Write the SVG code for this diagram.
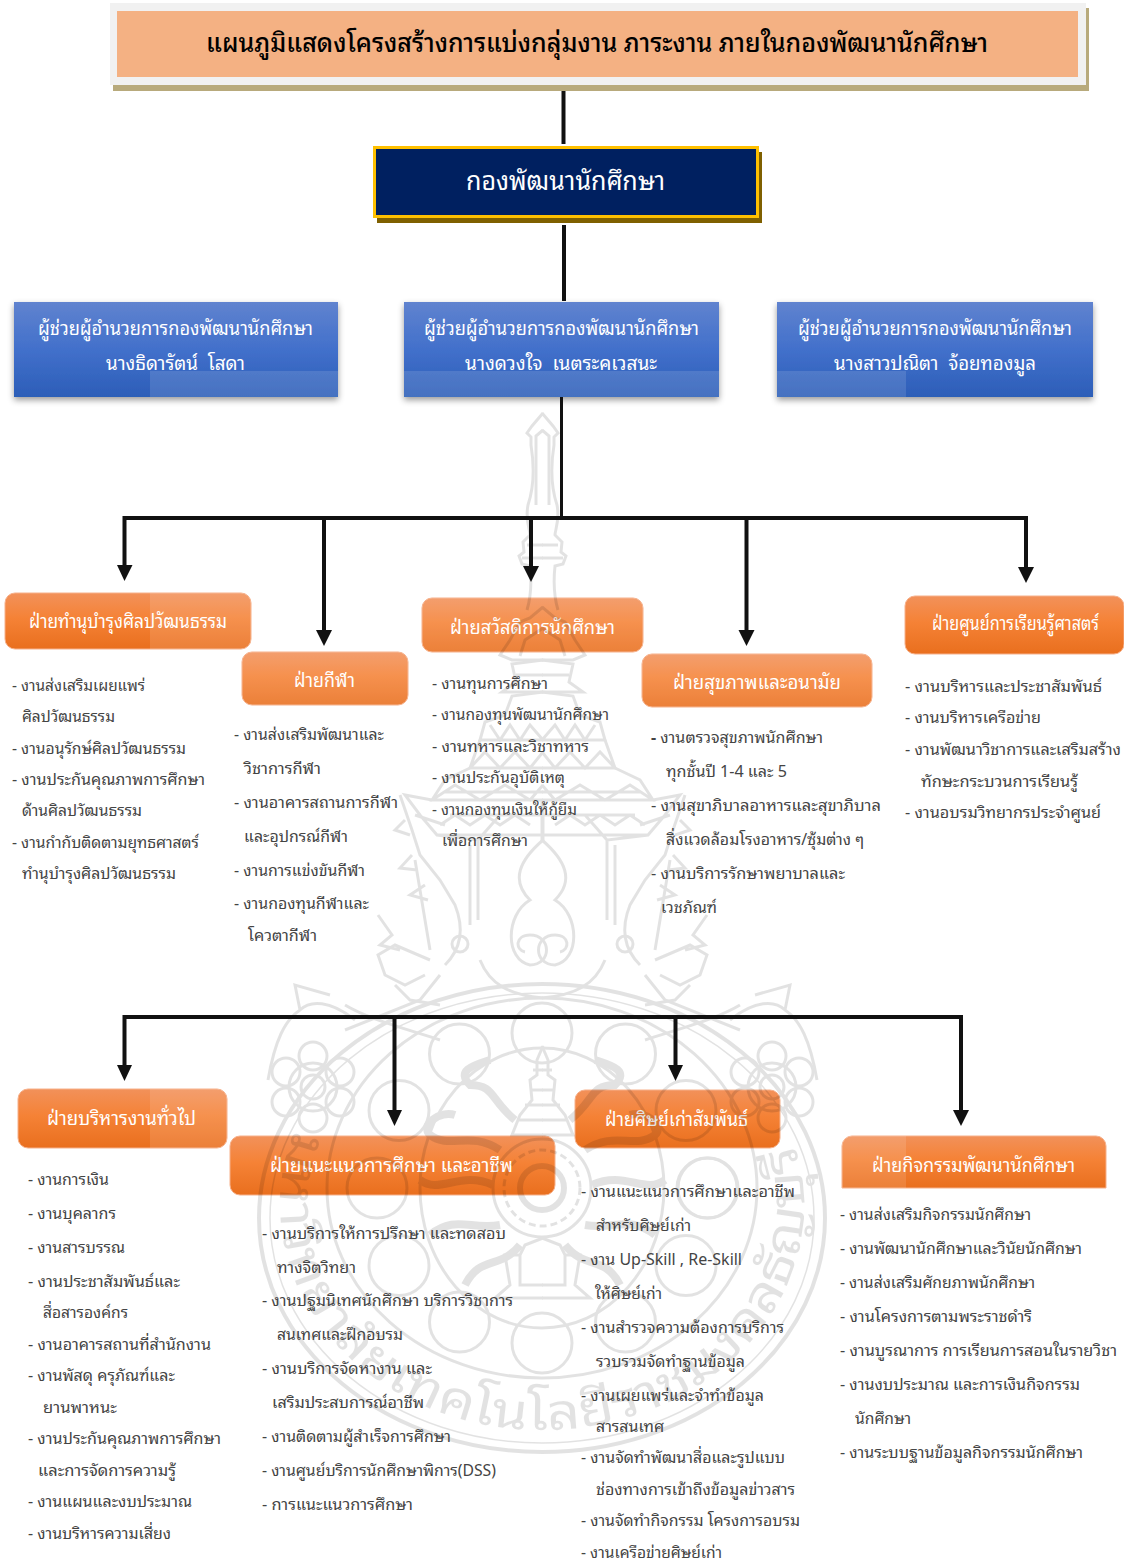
<svg xmlns="http://www.w3.org/2000/svg" width="1124" height="1562" viewBox="0 0 1124 1562">
<style>
text{font-family:"Noto Sans Thai Looped","Noto Sans","Noto Sans Thai","Liberation Sans",sans-serif}
.b{font-size:16px;fill:#444;transform:translate(0,-1px)}
.o{font-size:19px;fill:#fff;text-anchor:start}
.bl{font-size:19px;fill:#fff}
.ln{stroke:#111;stroke-width:4;fill:none}
.ah{fill:#111}
.wm{fill:none;stroke:#000;stroke-width:3}
.ov{fill:#fff;opacity:.12}
</style>
<defs>
<linearGradient id="gO" x1="0" y1="0" x2="0" y2="1"><stop offset="0" stop-color="#f2915a"/><stop offset=".45" stop-color="#f58236"/><stop offset="1" stop-color="#e96f1e"/></linearGradient>
<linearGradient id="gB" x1="0" y1="0" x2="0" y2="1"><stop offset="0" stop-color="#6083cf"/><stop offset=".5" stop-color="#4270cb"/><stop offset="1" stop-color="#2c5eb8"/></linearGradient>
<filter id="sh" x="-5%" y="-10%" width="110%" height="130%"><feDropShadow dx="0" dy="3" stdDeviation="3" flood-color="#000" flood-opacity=".4"/></filter>
<path id="ringT" d="M295 1130A262 225 0 1 0 789 1130"/>
<g id="halfWm">
<path d="M543 413L532 426L527 433L531 437L531 445C535 470 533 490 528 505C525 520 530 530 530 535L523 542L524 552L519 556L522 564L530 566C532 585 530 600 527 610"/>
<path d="M543 430L536 436L536 505M543 545H527M543 558H522"/>
<path d="M543 607L530 618L520 622L510 640L500 655L512 660H543M543 628L525 640L520 656"/>
<path d="M543 660L512 664L516 682L502 692H543M543 675H516"/>
<path d="M543 692L512 696L505 715L485 722L480 740H543M490 725L500 740L510 725L520 740L530 725L543 740"/>
<path d="M480 740L470 768H543M470 768L485 752L500 768L515 752L530 768L543 752"/>
<path d="M470 768L445 780L432 800H543M432 800L455 785L480 800L505 785L530 800L543 785M445 792H543"/>
<path d="M432 800L405 795L420 815L437 835L478 840V920M437 835H543M415 815L445 825M478 840L500 815M450 815H543M440 825L455 815L470 825L485 815L500 825L515 815L530 825"/>
<path d="M400 795L412 830L420 855L440 880L455 905C465 930 460 950 445 965M415 860C420 890 425 920 430 950M470 845V925M405 820L395 830L410 835M412 855L400 868L417 870M425 885L410 895L428 900"/>
<circle cx="460" cy="944" r="8"/>
<path d="M430 960L395 945L378 955L385 975L405 985L425 975M378 915L392 935L380 945L400 950M395 985L410 1000L440 1005"/>
<path d="M543 800V840C520 860 510 880 530 900C505 915 505 960 530 965C552 965 552 935 530 935C515 935 515 950 525 952M480 960C490 985 510 995 543 998"/>
<ellipse cx="313" cy="1087" rx="24" ry="24"/><ellipse cx="313" cy="1087" rx="12" ry="12"/>
<circle cx="313" cy="1056" r="14"/><circle cx="340" cy="1072" r="14"/><circle cx="340" cy="1102" r="14"/><circle cx="313" cy="1118" r="14"/><circle cx="286" cy="1102" r="14"/><circle cx="286" cy="1072" r="14"/>
<path d="M355 1020C330 1000 310 1000 300 1010C285 1020 275 1040 268 1080M345 1030L420 1000L440 975M300 1010L295 985L330 995M345 1005C370 1020 410 1030 440 1040"/>
<circle cx="459.500" cy="1054" r="30"/><circle cx="399" cy="1110.500" r="30"/><circle cx="377" cy="1188" r="30"/><circle cx="399" cy="1265.500" r="30"/><circle cx="459.500" cy="1322" r="30"/>
<path stroke-width="8" d="M515 1120C490 1100 495 1085 470 1085C455 1070 475 1065 490 1060M500 1150C470 1130 450 1150 430 1135C420 1125 440 1110 455 1115M493 1185C460 1170 440 1195 420 1180M500 1225C470 1230 455 1215 430 1235M520 1245C500 1270 480 1255 465 1285"/>
<path d="M543 1046L537 1060V1075L530 1080L532 1100L520 1115L512 1135H543M543 1238L525 1245L520 1255H505L510 1285L495 1298H543M520 1255V1285H543M543 1070H533M543 1090H530M543 1105H525M543 1120H518"/>
</g>
</defs>

<g id="title"><rect x="113" y="8" width="976" height="83" fill="#b8aa7c"/><rect x="110" y="3" width="976" height="82" fill="#f1f1f1"/><rect x="117" y="11" width="961" height="66" fill="#f4b183"/><text x="206" y="52" font-size="26" fill="#000" font-weight="500" textLength="782" lengthAdjust="spacingAndGlyphs">แผนภูมิแสดงโครงสร้างการแบ่งกลุ่มงาน ภาระงาน ภายในกองพัฒนานักศึกษา</text></g>

<g id="head"><rect x="377" y="152" width="385" height="71" fill="#7f6000"/><rect x="374.500" y="147.500" width="383" height="69" fill="#002060" stroke="#ffc000" stroke-width="3"/><text x="466" y="190" font-size="26" fill="#fff" textLength="199" lengthAdjust="spacingAndGlyphs">กองพัฒนานักศึกษา</text></g>

<g id="asst1"><rect x="14" y="302" width="324" height="95" fill="url(#gB)" filter="url(#sh)"/><rect class="ov" x="150" y="371" width="188" height="26"/><text class="bl" x="38" y="335" textLength="275" lengthAdjust="spacingAndGlyphs">ผู้ช่วยผู้อำนวยการกองพัฒนานักศึกษา</text><text class="bl" xml:space="preserve" x="106" y="370" textLength="139" lengthAdjust="spacingAndGlyphs">นางธิดารัตน์  โสดา</text></g>
<g id="asst2"><rect x="404" y="302" width="315" height="95" fill="url(#gB)" filter="url(#sh)"/><rect class="ov" x="404" y="371" width="315" height="26"/><text class="bl" x="424" y="335" textLength="275" lengthAdjust="spacingAndGlyphs">ผู้ช่วยผู้อำนวยการกองพัฒนานักศึกษา</text><text class="bl" xml:space="preserve" x="465" y="370" textLength="192" lengthAdjust="spacingAndGlyphs">นางดวงใจ  เนตระคเวสนะ</text></g>
<g id="asst3"><rect x="777" y="302" width="316" height="95" fill="url(#gB)" filter="url(#sh)"/><rect class="ov" x="777" y="371" width="129" height="26"/><text class="bl" x="798" y="335" textLength="274" lengthAdjust="spacingAndGlyphs">ผู้ช่วยผู้อำนวยการกองพัฒนานักศึกษา</text><text class="bl" xml:space="preserve" x="834" y="370" textLength="202" lengthAdjust="spacingAndGlyphs">นางสาวปณิตา  จ้อยทองมูล</text></g>

<g id="d1"><rect x="5" y="593" width="246" height="56" rx="10" fill="url(#gO)" stroke="#f6b08a"/><path class="ov" d="M150 593H241A10 10 0 0 1 251 603V639A10 10 0 0 1 241 649H150Z"/><text class="o" x="29" y="628" textLength="198" lengthAdjust="spacingAndGlyphs">ฝ่ายทำนุบำรุงศิลปวัฒนธรรม</text></g>
<g id="d2"><rect x="242" y="652" width="166" height="53" rx="10" fill="url(#gO)" stroke="#f6b08a"/><rect class="ov" x="242" y="652" width="166" height="53" rx="10"/><text class="o" x="294" y="687" textLength="61" lengthAdjust="spacingAndGlyphs">ฝ่ายกีฬา</text></g>
<g id="d3"><rect x="422" y="598" width="221" height="54" rx="10" fill="url(#gO)" stroke="#f6b08a"/><rect class="ov" x="422" y="598" width="221" height="54" rx="10"/><text class="o" x="450" y="634" textLength="165" lengthAdjust="spacingAndGlyphs">ฝ่ายสวัสดิการนักศึกษา</text></g>
<g id="d4"><rect x="642" y="654" width="230" height="53" rx="10" fill="url(#gO)" stroke="#f6b08a"/><rect class="ov" x="642" y="654" width="230" height="53" rx="10"/><text class="o" x="673" y="689" textLength="168" lengthAdjust="spacingAndGlyphs">ฝ่ายสุขภาพและอนามัย</text></g>
<g id="d5"><rect x="905" y="596" width="219" height="58" rx="10" fill="url(#gO)" stroke="#f6b08a"/><text class="o" x="932" y="630" textLength="167" lengthAdjust="spacingAndGlyphs">ฝ่ายศูนย์การเรียนรู้ศาสตร์</text></g>
<g id="d6"><rect x="18" y="1089" width="209" height="59" rx="10" fill="url(#gO)" stroke="#f6b08a"/><path class="ov" d="M150 1089H217A10 10 0 0 1 227 1099V1138A10 10 0 0 1 217 1148H150Z"/><text class="o" x="47" y="1125" textLength="149" lengthAdjust="spacingAndGlyphs">ฝ่ายบริหารงานทั่วไป</text></g>
<g id="d7"><rect x="230" y="1136" width="325" height="59" rx="10" fill="url(#gO)" stroke="#f6b08a"/><text class="o" x="270" y="1172" textLength="243" lengthAdjust="spacingAndGlyphs">ฝ่ายแนะแนวการศึกษา และอาชีพ</text></g>
<g id="d8"><rect x="575" y="1090" width="205" height="58" rx="10" fill="url(#gO)" stroke="#f6b08a"/><text class="o" x="605" y="1126" textLength="143" lengthAdjust="spacingAndGlyphs">ฝ่ายศิษย์เก่าสัมพันธ์</text></g>
<g id="d9"><path d="M842 1188V1146A10 10 0 0 1 852 1136H1096A10 10 0 0 1 1106 1146V1188Z" fill="url(#gO)" stroke="#f6b08a"/><rect class="ov" x="842" y="1136" width="64" height="52"/><text class="o" x="872" y="1172" textLength="203" lengthAdjust="spacingAndGlyphs">ฝ่ายกิจกรรมพัฒนานักศึกษา</text></g>

<g id="watermark" opacity=".11">
<g class="wm"><use href="#halfWm"/><use href="#halfWm" transform="translate(1085,0) scale(-1,1)"/>
<ellipse cx="542" cy="1218" rx="283" ry="234" stroke-width="4"/><ellipse cx="542" cy="1218" rx="272" ry="225" stroke-width="1.500"/>
<ellipse cx="542" cy="1188" rx="215" ry="190"/><ellipse cx="542" cy="1188" rx="122" ry="140"/>
<circle cx="542" cy="1343" r="30"/><circle cx="542" cy="1033" r="30"/><circle cx="707" cy="1188" r="30"/>
<circle cx="542" cy="1188" r="49"/><circle cx="542" cy="1188" r="38" stroke-dasharray="7 4"/><circle cx="542" cy="1188" r="22" stroke-width="6"/>
</g>
<text font-size="50" fill="#000" stroke="none"><textPath href="#ringT" textLength="905" lengthAdjust="spacingAndGlyphs">มหาวิทยาลัยเทคโนโลยีราชมงคลธัญบุรี</textPath></text>
</g>

<g id="connectors">
<line class="ln" x1="563.500" y1="91" x2="563.500" y2="144"/>
<line class="ln" x1="564" y1="225" x2="564" y2="301"/>
<line class="ln" x1="561.500" y1="397" x2="561.500" y2="518" style="stroke-width:3"/>
<path class="ln" d="M124.500 566V518H1026V567"/>
<line class="ln" x1="324" y1="518" x2="324" y2="632"/>
<line class="ln" x1="531" y1="518" x2="531" y2="568"/>
<line class="ln" x1="746.500" y1="518" x2="746.500" y2="632"/>
<path class="ah" d="M117 565H132.500L124.500 581ZM316 630H332L324 646ZM523 566H539L531 582ZM738.500 630H754.500L746.500 646ZM1018 567H1034L1026 583Z"/>
<path class="ln" d="M124.500 1066V1017H961V1111"/>
<line class="ln" x1="394.500" y1="1017" x2="394.500" y2="1111"/>
<line class="ln" x1="675.500" y1="1017" x2="675.500" y2="1066"/>
<path class="ah" d="M117 1065H132L124.500 1081ZM387 1110H402L394.500 1126ZM668 1065H683L675.500 1081ZM953 1110H969L961 1126Z"/>
</g>

<g id="list1" class="b">
<text x="12" y="692" textLength="133" lengthAdjust="spacingAndGlyphs">- งานส่งเสริมเผยแพร่</text>
<text x="22" y="723" textLength="93" lengthAdjust="spacingAndGlyphs">ศิลปวัฒนธรรม</text>
<text x="12" y="755" textLength="174" lengthAdjust="spacingAndGlyphs">- งานอนุรักษ์ศิลปวัฒนธรรม</text>
<text x="12" y="786" textLength="193" lengthAdjust="spacingAndGlyphs">- งานประกันคุณภาพการศึกษา</text>
<text x="22" y="817" textLength="120" lengthAdjust="spacingAndGlyphs">ด้านศิลปวัฒนธรรม</text>
<text x="12" y="849" textLength="187" lengthAdjust="spacingAndGlyphs">- งานกำกับติดตามยุทธศาสตร์</text>
<text x="22" y="880" textLength="154" lengthAdjust="spacingAndGlyphs">ทำนุบำรุงศิลปวัฒนธรรม</text>
</g>
<g id="list2" class="b">
<text x="234" y="741" textLength="150" lengthAdjust="spacingAndGlyphs">- งานส่งเสริมพัฒนาและ</text>
<text x="244" y="775" textLength="77" lengthAdjust="spacingAndGlyphs">วิชาการกีฬา</text>
<text x="234" y="809" textLength="164" lengthAdjust="spacingAndGlyphs">- งานอาคารสถานการกีฬา</text>
<text x="244" y="843" textLength="104" lengthAdjust="spacingAndGlyphs">และอุปกรณ์กีฬา</text>
<text x="234" y="877" textLength="131" lengthAdjust="spacingAndGlyphs">- งานการแข่งขันกีฬา</text>
<text x="234" y="910" textLength="135" lengthAdjust="spacingAndGlyphs">- งานกองทุนกีฬาและ</text>
<text x="248" y="942" textLength="69" lengthAdjust="spacingAndGlyphs">โควตากีฬา</text>
</g>
<g id="list3" class="b">
<text x="432" y="690" textLength="116" lengthAdjust="spacingAndGlyphs">- งานทุนการศึกษา</text>
<text x="432" y="721" textLength="177" lengthAdjust="spacingAndGlyphs">- งานกองทุนพัฒนานักศึกษา</text>
<text x="432" y="753" textLength="157" lengthAdjust="spacingAndGlyphs">- งานทหารและวิชาทหาร</text>
<text x="432" y="784" textLength="133" lengthAdjust="spacingAndGlyphs">- งานประกันอุบัติเหตุ</text>
<text x="432" y="816" textLength="145" lengthAdjust="spacingAndGlyphs">- งานกองทุนเงินให้กู้ยืม</text>
<text x="442" y="847" textLength="86" lengthAdjust="spacingAndGlyphs">เพื่อการศึกษา</text>
</g>
<g id="list4" class="b">
<text x="651" y="744" textLength="172" lengthAdjust="spacingAndGlyphs"><tspan font-weight="700">-</tspan> งานตรวจสุขภาพนักศึกษา</text>
<text x="666" y="778" textLength="121" lengthAdjust="spacingAndGlyphs">ทุกชั้นปี 1-4 และ 5</text>
<text x="651" y="812" textLength="230" lengthAdjust="spacingAndGlyphs">- งานสุขาภิบาลอาหารและสุขาภิบาล</text>
<text x="666" y="846" textLength="198" lengthAdjust="spacingAndGlyphs">สิ่งแวดล้อมโรงอาหาร/ซุ้มต่าง ๆ</text>
<text x="651" y="880" textLength="194" lengthAdjust="spacingAndGlyphs">- งานบริการรักษาพยาบาลและ</text>
<text x="661" y="914" textLength="56" lengthAdjust="spacingAndGlyphs">เวชภัณฑ์</text>
</g>
<g id="list5" class="b">
<text x="905" y="693" textLength="197" lengthAdjust="spacingAndGlyphs">- งานบริหารและประชาสัมพันธ์</text>
<text x="905" y="724" textLength="136" lengthAdjust="spacingAndGlyphs">- งานบริหารเครือข่าย</text>
<text x="905" y="756" textLength="216" lengthAdjust="spacingAndGlyphs">- งานพัฒนาวิชาการและเสริมสร้าง</text>
<text x="921" y="788" textLength="157" lengthAdjust="spacingAndGlyphs">ทักษะกระบวนการเรียนรู้</text>
<text x="905" y="819" textLength="196" lengthAdjust="spacingAndGlyphs">- งานอบรมวิทยากรประจำศูนย์</text>
</g>
<g id="list6" class="b">
<text x="28" y="1186" textLength="81" lengthAdjust="spacingAndGlyphs">- งานการเงิน</text>
<text x="28" y="1220" textLength="88" lengthAdjust="spacingAndGlyphs">- งานบุคลากร</text>
<text x="28" y="1254" textLength="97" lengthAdjust="spacingAndGlyphs">- งานสารบรรณ</text>
<text x="28" y="1288" textLength="152" lengthAdjust="spacingAndGlyphs">- งานประชาสัมพันธ์และ</text>
<text x="43" y="1319" textLength="85" lengthAdjust="spacingAndGlyphs">สื่อสารองค์กร</text>
<text x="28" y="1351" textLength="183" lengthAdjust="spacingAndGlyphs">- งานอาคารสถานที่สำนักงาน</text>
<text x="28" y="1382" textLength="147" lengthAdjust="spacingAndGlyphs">- งานพัสดุ ครุภัณฑ์และ</text>
<text x="43" y="1414" textLength="74" lengthAdjust="spacingAndGlyphs">ยานพาหนะ</text>
<text x="28" y="1445" textLength="193" lengthAdjust="spacingAndGlyphs">- งานประกันคุณภาพการศึกษา</text>
<text x="38" y="1477" textLength="138" lengthAdjust="spacingAndGlyphs">และการจัดการความรู้</text>
<text x="28" y="1508" textLength="164" lengthAdjust="spacingAndGlyphs">- งานแผนและงบประมาณ</text>
<text x="28" y="1540" textLength="143" lengthAdjust="spacingAndGlyphs">- งานบริหารความเสี่ยง</text>
</g>
<g id="list7" class="b">
<text x="262" y="1240" textLength="244" lengthAdjust="spacingAndGlyphs">- งานบริการให้การปรึกษา และทดสอบ</text>
<text x="277" y="1274" textLength="79" lengthAdjust="spacingAndGlyphs">ทางจิตวิทยา</text>
<text x="262" y="1307" textLength="251" lengthAdjust="spacingAndGlyphs">- งานปฐมนิเทศนักศึกษา บริการวิชาการ</text>
<text x="277" y="1341" textLength="126" lengthAdjust="spacingAndGlyphs">สนเทศและฝึกอบรม</text>
<text x="262" y="1375" textLength="170" lengthAdjust="spacingAndGlyphs">- งานบริการจัดหางาน และ</text>
<text x="272" y="1409" textLength="152" lengthAdjust="spacingAndGlyphs">เสริมประสบการณ์อาชีพ</text>
<text x="262" y="1443" textLength="189" lengthAdjust="spacingAndGlyphs">- งานติดตามผู้สำเร็จการศึกษา</text>
<text x="262" y="1477" textLength="234" lengthAdjust="spacingAndGlyphs">- งานศูนย์บริการนักศึกษาพิการ(DSS)</text>
<text x="262" y="1511" textLength="151" lengthAdjust="spacingAndGlyphs">- การแนะแนวการศึกษา</text>
</g>
<g id="list8" class="b">
<text x="581" y="1198" textLength="214" lengthAdjust="spacingAndGlyphs">- งานแนะแนวการศึกษาและอาชีพ</text>
<text x="596" y="1232" textLength="95" lengthAdjust="spacingAndGlyphs">สำหรับศิษย์เก่า</text>
<text x="581" y="1266" textLength="161" lengthAdjust="spacingAndGlyphs">- งาน Up-Skill , Re-Skill</text>
<text x="595" y="1300" textLength="67" lengthAdjust="spacingAndGlyphs">ให้ศิษย์เก่า</text>
<text x="581" y="1334" textLength="203" lengthAdjust="spacingAndGlyphs">- งานสำรวจความต้องการบริการ</text>
<text x="596" y="1368" textLength="149" lengthAdjust="spacingAndGlyphs">รวบรวมจัดทำฐานข้อมูล</text>
<text x="581" y="1402" textLength="183" lengthAdjust="spacingAndGlyphs">- งานเผยแพร่และจำทำข้อมูล</text>
<text x="596" y="1433" textLength="68" lengthAdjust="spacingAndGlyphs">สารสนเทศ</text>
<text x="581" y="1464" textLength="204" lengthAdjust="spacingAndGlyphs">- งานจัดทำพัฒนาสื่อและรูปแบบ</text>
<text x="596" y="1496" textLength="199" lengthAdjust="spacingAndGlyphs">ช่องทางการเข้าถึงข้อมูลข่าวสาร</text>
<text x="581" y="1527" textLength="219" lengthAdjust="spacingAndGlyphs">- งานจัดทำกิจกรรม โครงการอบรม</text>
<text x="581" y="1559" textLength="141" lengthAdjust="spacingAndGlyphs">- งานเครือข่ายศิษย์เก่า</text>
</g>
<g id="list9" class="b">
<text x="840" y="1221" textLength="191" lengthAdjust="spacingAndGlyphs">- งานส่งเสริมกิจกรรมนักศึกษา</text>
<text x="840" y="1255" textLength="242" lengthAdjust="spacingAndGlyphs">- งานพัฒนานักศึกษาและวินัยนักศึกษา</text>
<text x="840" y="1289" textLength="195" lengthAdjust="spacingAndGlyphs">- งานส่งเสริมศักยภาพนักศึกษา</text>
<text x="840" y="1323" textLength="192" lengthAdjust="spacingAndGlyphs">- งานโครงการตามพระราชดำริ</text>
<text x="840" y="1357" textLength="277" lengthAdjust="spacingAndGlyphs">- งานบูรณาการ การเรียนการสอนในรายวิชา</text>
<text x="840" y="1391" textLength="240" lengthAdjust="spacingAndGlyphs">- งานงบประมาณ และการเงินกิจกรรม</text>
<text x="855" y="1425" textLength="56" lengthAdjust="spacingAndGlyphs">นักศึกษา</text>
<text x="840" y="1459" textLength="243" lengthAdjust="spacingAndGlyphs">- งานระบบฐานข้อมูลกิจกรรมนักศึกษา</text>
</g>
</svg>
